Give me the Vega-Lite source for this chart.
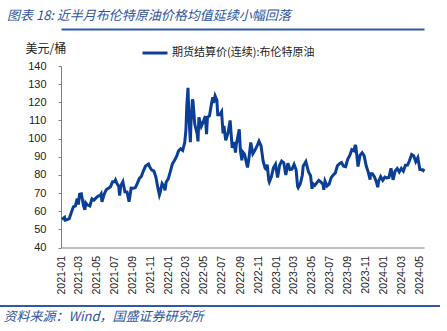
{
  "$schema": "https://vega.github.io/schema/vega-lite/v6.json",
  "width": 363,
  "height": 181.5,
  "autosize": {"type": "none"},
  "padding": {"left": 61, "top": 66, "right": 23, "bottom": 83.5},
  "background": "white",
  "title": {
    "text": "图表 18:  近半月布伦特原油价格均值延续小幅回落",
    "anchor": "start",
    "frame": "group",
    "dx": -54,
    "offset": 6,
    "font": "Noto Sans CJK SC",
    "fontSize": 13,
    "fontStyle": "italic",
    "fontWeight": "normal",
    "color": "#2F55A0"
  },
  "config": {
    "view": {"stroke": null},
    "font": "Liberation Sans",
    "axisY": {"tickCount": 10, "labelOverlap": false, "labelFlush": false},
    "axisX": {"labelOverlap": false, "labelFlush": false}
  },
  "resolve": {"axis": {"x": "independent"}},
  "data": {
    "values": [
      {"date": "2021-01-04", "price": 55.6},
      {"date": "2021-01-08", "price": 56.0},
      {"date": "2021-01-13", "price": 56.6},
      {"date": "2021-01-15", "price": 55.1},
      {"date": "2021-01-22", "price": 55.4},
      {"date": "2021-01-29", "price": 55.9},
      {"date": "2021-02-05", "price": 59.3},
      {"date": "2021-02-12", "price": 62.4},
      {"date": "2021-02-19", "price": 62.9},
      {"date": "2021-02-25", "price": 67.0},
      {"date": "2021-03-01", "price": 63.7},
      {"date": "2021-03-05", "price": 69.4},
      {"date": "2021-03-11", "price": 69.6},
      {"date": "2021-03-18", "price": 63.3},
      {"date": "2021-03-23", "price": 60.8},
      {"date": "2021-03-26", "price": 64.6},
      {"date": "2021-03-31", "price": 63.5},
      {"date": "2021-04-09", "price": 62.9},
      {"date": "2021-04-16", "price": 66.8},
      {"date": "2021-04-23", "price": 66.1},
      {"date": "2021-04-30", "price": 67.3},
      {"date": "2021-05-07", "price": 68.3},
      {"date": "2021-05-14", "price": 68.7},
      {"date": "2021-05-17", "price": 69.5},
      {"date": "2021-05-20", "price": 65.1},
      {"date": "2021-05-28", "price": 69.6},
      {"date": "2021-06-04", "price": 71.9},
      {"date": "2021-06-11", "price": 72.7},
      {"date": "2021-06-18", "price": 73.5},
      {"date": "2021-06-25", "price": 76.2},
      {"date": "2021-07-02", "price": 76.2},
      {"date": "2021-07-05", "price": 77.2},
      {"date": "2021-07-09", "price": 75.6},
      {"date": "2021-07-16", "price": 73.6},
      {"date": "2021-07-19", "price": 68.6},
      {"date": "2021-07-23", "price": 74.1},
      {"date": "2021-07-30", "price": 76.3},
      {"date": "2021-08-06", "price": 70.7},
      {"date": "2021-08-13", "price": 70.6},
      {"date": "2021-08-20", "price": 65.2},
      {"date": "2021-08-27", "price": 72.7},
      {"date": "2021-09-03", "price": 72.6},
      {"date": "2021-09-10", "price": 72.9},
      {"date": "2021-09-17", "price": 75.3},
      {"date": "2021-09-24", "price": 78.1},
      {"date": "2021-10-01", "price": 79.3},
      {"date": "2021-10-08", "price": 82.4},
      {"date": "2021-10-15", "price": 84.9},
      {"date": "2021-10-25", "price": 86.0},
      {"date": "2021-10-29", "price": 84.4},
      {"date": "2021-11-05", "price": 82.7},
      {"date": "2021-11-12", "price": 82.2},
      {"date": "2021-11-19", "price": 78.9},
      {"date": "2021-11-26", "price": 72.7},
      {"date": "2021-12-01", "price": 68.9},
      {"date": "2021-12-03", "price": 69.9},
      {"date": "2021-12-10", "price": 75.2},
      {"date": "2021-12-17", "price": 73.5},
      {"date": "2021-12-20", "price": 71.5},
      {"date": "2021-12-24", "price": 76.1},
      {"date": "2021-12-31", "price": 77.8},
      {"date": "2022-01-07", "price": 81.8},
      {"date": "2022-01-14", "price": 86.1},
      {"date": "2022-01-21", "price": 87.9},
      {"date": "2022-01-28", "price": 90.0},
      {"date": "2022-02-04", "price": 93.3},
      {"date": "2022-02-11", "price": 94.4},
      {"date": "2022-02-18", "price": 93.5},
      {"date": "2022-02-25", "price": 97.9},
      {"date": "2022-03-01", "price": 105.0},
      {"date": "2022-03-04", "price": 118.1},
      {"date": "2022-03-08", "price": 128.0},
      {"date": "2022-03-11", "price": 112.7},
      {"date": "2022-03-16", "price": 98.0},
      {"date": "2022-03-18", "price": 107.9},
      {"date": "2022-03-23", "price": 121.6},
      {"date": "2022-03-25", "price": 120.7},
      {"date": "2022-03-31", "price": 107.9},
      {"date": "2022-04-08", "price": 102.8},
      {"date": "2022-04-11", "price": 98.5},
      {"date": "2022-04-14", "price": 111.7},
      {"date": "2022-04-22", "price": 106.7},
      {"date": "2022-04-29", "price": 109.3},
      {"date": "2022-05-06", "price": 112.4},
      {"date": "2022-05-10", "price": 102.5},
      {"date": "2022-05-13", "price": 111.6},
      {"date": "2022-05-20", "price": 112.6},
      {"date": "2022-05-27", "price": 119.4},
      {"date": "2022-05-31", "price": 122.8},
      {"date": "2022-06-03", "price": 119.7},
      {"date": "2022-06-08", "price": 123.6},
      {"date": "2022-06-14", "price": 121.2},
      {"date": "2022-06-17", "price": 113.1},
      {"date": "2022-06-24", "price": 113.1},
      {"date": "2022-06-30", "price": 114.8},
      {"date": "2022-07-05", "price": 102.8},
      {"date": "2022-07-08", "price": 107.0},
      {"date": "2022-07-14", "price": 99.1},
      {"date": "2022-07-22", "price": 103.2},
      {"date": "2022-07-29", "price": 110.0},
      {"date": "2022-08-05", "price": 94.9},
      {"date": "2022-08-12", "price": 98.2},
      {"date": "2022-08-16", "price": 92.3},
      {"date": "2022-08-19", "price": 96.7},
      {"date": "2022-08-29", "price": 105.1},
      {"date": "2022-09-02", "price": 93.0},
      {"date": "2022-09-07", "price": 88.0},
      {"date": "2022-09-09", "price": 92.8},
      {"date": "2022-09-16", "price": 91.4},
      {"date": "2022-09-23", "price": 86.2},
      {"date": "2022-09-26", "price": 84.1},
      {"date": "2022-09-30", "price": 88.0},
      {"date": "2022-10-07", "price": 97.9},
      {"date": "2022-10-14", "price": 91.6},
      {"date": "2022-10-21", "price": 93.5},
      {"date": "2022-10-28", "price": 95.8},
      {"date": "2022-11-04", "price": 98.6},
      {"date": "2022-11-11", "price": 96.0},
      {"date": "2022-11-18", "price": 87.6},
      {"date": "2022-11-25", "price": 83.6},
      {"date": "2022-11-28", "price": 83.2},
      {"date": "2022-12-02", "price": 85.6},
      {"date": "2022-12-07", "price": 77.2},
      {"date": "2022-12-09", "price": 76.1},
      {"date": "2022-12-16", "price": 79.0},
      {"date": "2022-12-23", "price": 83.9},
      {"date": "2022-12-30", "price": 85.9},
      {"date": "2023-01-06", "price": 78.6},
      {"date": "2023-01-13", "price": 85.3},
      {"date": "2023-01-20", "price": 87.6},
      {"date": "2023-01-27", "price": 86.7},
      {"date": "2023-02-03", "price": 79.9},
      {"date": "2023-02-10", "price": 86.4},
      {"date": "2023-02-17", "price": 83.0},
      {"date": "2023-02-24", "price": 83.2},
      {"date": "2023-03-03", "price": 85.8},
      {"date": "2023-03-10", "price": 82.8},
      {"date": "2023-03-15", "price": 73.7},
      {"date": "2023-03-17", "price": 73.0},
      {"date": "2023-03-24", "price": 75.0},
      {"date": "2023-03-31", "price": 79.8},
      {"date": "2023-04-03", "price": 84.9},
      {"date": "2023-04-12", "price": 87.3},
      {"date": "2023-04-21", "price": 81.7},
      {"date": "2023-04-28", "price": 79.5},
      {"date": "2023-05-03", "price": 72.3},
      {"date": "2023-05-05", "price": 75.3},
      {"date": "2023-05-12", "price": 74.2},
      {"date": "2023-05-19", "price": 75.6},
      {"date": "2023-05-26", "price": 77.0},
      {"date": "2023-06-02", "price": 76.1},
      {"date": "2023-06-09", "price": 74.8},
      {"date": "2023-06-12", "price": 71.8},
      {"date": "2023-06-16", "price": 76.6},
      {"date": "2023-06-23", "price": 73.9},
      {"date": "2023-06-30", "price": 74.9},
      {"date": "2023-07-07", "price": 78.5},
      {"date": "2023-07-14", "price": 79.9},
      {"date": "2023-07-21", "price": 81.1},
      {"date": "2023-07-28", "price": 85.0},
      {"date": "2023-08-04", "price": 86.2},
      {"date": "2023-08-11", "price": 86.8},
      {"date": "2023-08-18", "price": 84.8},
      {"date": "2023-08-25", "price": 84.5},
      {"date": "2023-09-01", "price": 88.6},
      {"date": "2023-09-08", "price": 90.7},
      {"date": "2023-09-15", "price": 93.9},
      {"date": "2023-09-22", "price": 93.3},
      {"date": "2023-09-27", "price": 96.6},
      {"date": "2023-09-29", "price": 95.3},
      {"date": "2023-10-06", "price": 84.6},
      {"date": "2023-10-13", "price": 90.9},
      {"date": "2023-10-20", "price": 92.2},
      {"date": "2023-10-27", "price": 90.5},
      {"date": "2023-11-03", "price": 84.9},
      {"date": "2023-11-10", "price": 81.4},
      {"date": "2023-11-16", "price": 77.4},
      {"date": "2023-11-17", "price": 80.6},
      {"date": "2023-11-24", "price": 80.6},
      {"date": "2023-12-01", "price": 78.9},
      {"date": "2023-12-08", "price": 75.8},
      {"date": "2023-12-12", "price": 73.2},
      {"date": "2023-12-15", "price": 76.6},
      {"date": "2023-12-22", "price": 79.1},
      {"date": "2023-12-29", "price": 77.0},
      {"date": "2024-01-05", "price": 78.8},
      {"date": "2024-01-12", "price": 78.3},
      {"date": "2024-01-19", "price": 78.6},
      {"date": "2024-01-26", "price": 83.6},
      {"date": "2024-02-02", "price": 77.3},
      {"date": "2024-02-09", "price": 82.2},
      {"date": "2024-02-16", "price": 83.5},
      {"date": "2024-02-23", "price": 81.6},
      {"date": "2024-03-01", "price": 83.6},
      {"date": "2024-03-08", "price": 82.1},
      {"date": "2024-03-15", "price": 85.3},
      {"date": "2024-03-22", "price": 85.4},
      {"date": "2024-03-28", "price": 87.5},
      {"date": "2024-04-05", "price": 91.2},
      {"date": "2024-04-12", "price": 90.5},
      {"date": "2024-04-19", "price": 87.3},
      {"date": "2024-04-26", "price": 89.5},
      {"date": "2024-05-03", "price": 83.0},
      {"date": "2024-05-10", "price": 82.8},
      {"date": "2024-05-14", "price": 82.4},
      {"date": "2024-05-17", "price": 83.4}
    ]
  },
  "layer": [
    {
      "mark": {"type": "rule", "color": "#2E5AA6", "strokeWidth": 2},
      "encoding": {
        "x": {
          "datum": {"year": 2020, "month": 6, "date": 1},
          "type": "temporal",
          "axis": {
            "orient": "top",
            "offset": 37,
            "labels": false,
            "ticks": false,
            "grid": false,
            "title": null,
            "domain": true,
            "domainColor": "#2E5AA6",
            "domainWidth": 2
          }
        },
        "x2": {"datum": {"year": 2024, "month": 7, "date": 10}},
        "y": {"datum": 7.7, "type": "quantitative"}
      }
    },
    {
      "mark": {"type": "line", "strokeWidth": 3, "interpolate": "linear"},
      "encoding": {
        "x": {
          "field": "date",
          "type": "temporal",
          "scale": {"domain": [{"year": 2021, "month": 1, "date": 1}, {"year": 2024, "month": 5, "date": 17}]},
          "axis": {
            "orient": "bottom",
            "format": "%Y-%m",
            "tickCount": {"interval": "month", "step": 2},
            "labelAngle": -90,
            "labelFontSize": 10.5,
            "labelColor": "#222222",
            "labelPadding": 8,
            "ticks": false,
            "grid": false,
            "domainColor": "#7f7f7f",
            "domainWidth": 1,
            "title": "资料来源：Wind，国盛证券研究所",
            "titleFont": "Noto Sans CJK SC",
            "titleFontSize": 13,
            "titleFontStyle": "italic",
            "titleFontWeight": "normal",
            "titleColor": "#2F55A0",
            "titleAlign": "left",
            "titleAnchor": "start",
            "titleBaseline": "middle",
            "titleX": -58,
            "titleY": 69
          }
        },
        "y": {
          "field": "price",
          "type": "quantitative",
          "scale": {"domain": [40, 140], "nice": false, "zero": false},
          "axis": {
            "tickCount": 10,
            "labelFontSize": 11,
            "labelColor": "#222222",
            "labelPadding": 12,
            "tickSize": 3,
            "tickColor": "#7f7f7f",
            "domainColor": "#7f7f7f",
            "grid": false,
            "title": "美元/桶",
            "titleFont": "Noto Sans CJK SC",
            "titleFontSize": 12,
            "titleFontWeight": "normal",
            "titleColor": "#222222",
            "titleAngle": 0,
            "titleAlign": "left",
            "titleBaseline": "middle",
            "titleX": -36,
            "titleY": -18
          }
        },
        "color": {
          "datum": "期货结算价(连续):布伦特原油",
          "scale": {"range": ["#0B3F95"]},
          "legend": {
            "title": null,
            "orient": "none",
            "legendX": 80,
            "legendY": -27,
            "padding": 0,
            "symbolType": "stroke",
            "symbolSize": 625,
            "symbolStrokeWidth": 3,
            "labelFont": "Noto Sans CJK SC",
            "labelFontSize": 11,
            "labelColor": "#222222",
            "labelOffset": 3
          }
        }
      }
    }
  ]
}
